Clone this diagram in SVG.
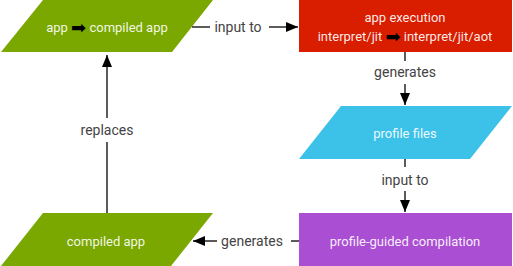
<svg xmlns="http://www.w3.org/2000/svg" width="513" height="266" viewBox="0 0 513 266">
<style>
.node-text{font-family:Roboto,"Liberation Sans",sans-serif;font-size:13px;fill:#ffffff;fill-opacity:0.92;text-anchor:middle;dominant-baseline:central}
.icon{font-family:"DejaVu Sans",sans-serif;font-size:18px;fill:#000000;fill-opacity:1}
.label{font-family:Roboto,"Liberation Sans",sans-serif;font-size:14px;fill:#444444;text-anchor:middle;dominant-baseline:central}
.conn{stroke:#333333;stroke-width:1.6;fill:none}
.green{fill:#7aa800}
</style>
<defs>
<marker id="ah" viewBox="0 0 12 10" refX="12" refY="5" markerWidth="12" markerHeight="10" markerUnits="userSpaceOnUse" orient="auto">
<path d="M0,0 L12,5 L0,10 Z" fill="#000000"/>
</marker>
</defs>
<rect width="513" height="266" fill="#ffffff"/>
<g id="node-app">
<polygon class="green" points="43,0 213,0 172,52 1,52"/>
<text class="node-text" x="107" y="27">app <tspan class="icon">➡</tspan> compiled app</text>
</g>
<g id="node-execution">
<rect x="299" y="0" width="213" height="52" fill="#d91e00"/>
<text class="node-text" x="405" y="17">app execution</text>
<text class="node-text" x="405" y="36">interpret/jit <tspan class="icon">➡</tspan> interpret/jit/aot</text>
</g>
<g id="node-profile">
<polygon fill="#3cc2e9" points="341,106 512,106 470,159 299,159"/>
<text class="node-text" x="405" y="133">profile files</text>
</g>
<g id="node-pgc">
<rect x="299" y="213" width="213" height="53" fill="#aa4fd4"/>
<text class="node-text" x="405" y="241">profile-guided compilation</text>
</g>
<g id="node-compiled">
<polygon class="green" points="43,213 213,213 171,266 1,266"/>
<text class="node-text" x="106" y="241">compiled app</text>
</g>
<g id="connectors">
<line class="conn" x1="192" y1="27" x2="210" y2="27"/>
<line class="conn" x1="269" y1="27" x2="298" y2="27" marker-end="url(#ah)"/>
<text class="label" x="238" y="27">input to</text>
<line class="conn" x1="405" y1="52" x2="405" y2="61"/>
<line class="conn" x1="405" y1="84" x2="405" y2="105" marker-end="url(#ah)"/>
<text class="label" x="405" y="72">generates</text>
<line class="conn" x1="405" y1="159" x2="405" y2="167"/>
<line class="conn" x1="405" y1="191" x2="405" y2="212" marker-end="url(#ah)"/>
<text class="label" x="405" y="180">input to</text>
<line class="conn" x1="299" y1="241" x2="291" y2="241"/>
<line class="conn" x1="217" y1="241" x2="193" y2="241" marker-end="url(#ah)"/>
<text class="label" x="252" y="241">generates</text>
<line class="conn" x1="107" y1="213" x2="107" y2="142"/>
<line class="conn" x1="107" y1="118" x2="107" y2="55" marker-end="url(#ah)"/>
<text class="label" x="107" y="130">replaces</text>
</g>
</svg>
